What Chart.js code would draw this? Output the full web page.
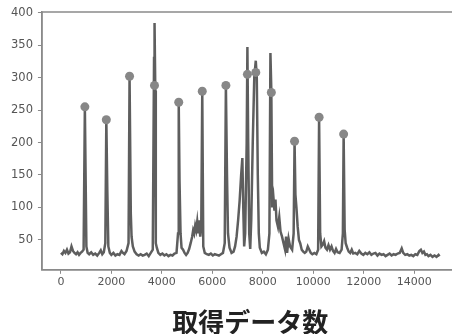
<!DOCTYPE html>
<html>
<head>
<meta charset="utf-8">
<script src="https://cdn.jsdelivr.net/npm/chart.js@4"></script>
<style>
  html, body { margin: 0; padding: 0; background: #fff; overflow: hidden; }
  canvas { display: block; }
</style>
</head>
<body>
<canvas id="chart" width="463" height="335"></canvas>
<script>
// trace (x = sample count, y = value)
const traceX = [0, 60, 120, 180, 240, 300, 360, 420, 480, 540, 600, 660, 720, 780, 840, 900, 950, 1010, 1060,
  1120, 1200, 1280, 1360, 1440, 1520, 1580, 1640, 1700, 1760, 1800, 1840, 1880, 1940, 2000, 2080, 2160, 2240,
  2320, 2400, 2460, 2520, 2600, 2680, 2720, 2770, 2800, 2850, 2920, 3000, 3080, 3160, 3240, 3320, 3400, 3480,
  3560, 3640, 3690, 3710, 3740, 3760, 3800, 3860, 3940, 4020, 4100, 4180, 4260, 4340, 4420, 4500, 4580, 4640,
  4668, 4700, 4740, 4780, 4840, 4900, 4960, 5020, 5080, 5140, 5200, 5240, 5280, 5320, 5360, 5400, 5440, 5480,
  5520, 5560, 5600, 5640, 5700, 5780, 5860, 5940, 6020, 6100, 6180, 6260, 6340, 6420, 6490, 6536, 6580, 6620,
  6680, 6760, 6840, 6900, 6960, 7020, 7080, 7140, 7188, 7230, 7260, 7300, 7360, 7388, 7420, 7460, 7500, 7540,
  7600, 7660, 7720, 7760, 7800, 7840, 7880, 7960, 8040, 8120, 8200, 8260, 8300, 8336, 8370, 8420, 8460, 8500,
  8540, 8600, 8650, 8700, 8760, 8820, 8880, 8920, 8960, 9020, 9080, 9160, 9220, 9256, 9290, 9330, 9380, 9430,
  9480, 9540, 9600, 9660, 9720, 9780, 9840, 9900, 9960, 10040, 10120, 10190, 10228, 10270, 10320, 10380, 10428,
  10480, 10540, 10600, 10660, 10720, 10780, 10840, 10900, 10960, 11040, 11120, 11170, 11200, 11240, 11280, 11340,
  11400, 11460, 11520, 11580, 11660, 11740, 11820, 11900, 11980, 12060, 12140, 12220, 12300, 12380, 12460, 12540,
  12620, 12700, 12780, 12860, 12940, 13020, 13100, 13180, 13260, 13340, 13420, 13500, 13560, 13640, 13720, 13800,
  13880, 13960, 14040, 14120, 14200, 14260, 14320, 14380, 14440, 14500, 14560, 14640, 14720, 14800, 14880, 14960, 15000];
const traceY = [30, 28, 33, 30, 35, 29, 31, 40, 33, 30, 28, 31, 27, 30, 32, 35, 255, 40, 30,
  28, 31, 27, 29, 26, 30, 34, 28, 31, 45, 235, 125, 40, 30, 27, 30, 26, 28,
  27, 33, 30, 28, 33, 45, 302, 90, 55, 40, 32, 28, 26, 28, 26, 27, 29, 25,
  30, 35, 330, 384, 280, 45, 38, 30, 27, 29, 26, 28, 25, 27, 26, 29, 30, 60,
  262, 140, 60, 38, 35, 30, 27, 30, 36, 45, 55, 65, 60, 72, 65, 78, 60, 80,
  55, 70, 279, 40, 30, 28, 27, 29, 26, 28, 27, 26, 28, 30, 45, 288, 150, 60,
  38, 30, 32, 40, 55, 80, 110, 150, 176, 90, 40, 60, 200, 347, 200, 60, 36, 80,
  200, 300, 326, 300, 150, 60, 38, 30, 32, 28, 35, 60, 338, 280, 100, 115, 95, 112,
  80, 70, 85, 63, 55, 45, 35, 55, 30, 52, 40, 35, 60, 202, 120, 100, 70, 50,
  45, 35, 32, 30, 32, 40, 35, 30, 28, 30, 28, 35, 239, 60, 40, 43, 48,
  38, 35, 42, 35, 40, 33, 30, 36, 31, 30, 35, 60, 213, 66, 45, 38,
  32, 30, 35, 29, 30, 28, 33, 29, 27, 30, 28, 31, 27, 29, 30, 26,
  29, 27, 28, 25, 27, 29, 26, 28, 27, 29, 30, 37, 30, 27, 28, 26,
  27, 25, 28, 27, 33, 35, 30, 32, 27, 28, 25, 27, 24, 26, 24, 27, 25];

// detected peaks (circle markers)
const peakX = [950, 1800, 2720, 3708, 4668, 5600, 6536, 7388, 7720, 8336, 9256, 10228, 11200];
const peakY = [255, 235, 302, 288, 262, 279, 288, 305, 308, 277, 202, 239, 213];

const xTicks = [0, 2000, 4000, 6000, 8000, 10000, 12000, 14000];
const yTicks = [50, 100, 150, 200, 250, 300, 350, 400];
const xTitle = '取得データ数';

const frameColor = '#8a8a8a';

// matplotlib-like box (top + right spines)
const boxPlugin = {
    id: 'box',
    afterDraw(chart) {
        const a = chart.chartArea;
        const ctx = chart.ctx;
        ctx.save();
        ctx.strokeStyle = frameColor;
        ctx.lineWidth = 1.5;
        ctx.strokeRect(a.left, a.top, a.right - a.left, a.bottom - a.top);
        ctx.restore();
    }
};

const ctx = document.getElementById('chart').getContext('2d');
new Chart(ctx, {
    type: 'scatter',
    data: {
        datasets: [{
            data: peakX.map((x, i) => ({ x: x, y: peakY[i] })),
            backgroundColor: '#878787',
            borderColor: '#878787',
            pointRadius: 4.5,
            pointBorderWidth: 0,
            order: 0
        }, {
            type: 'line',
            data: traceX.map((x, i) => ({ x: x, y: traceY[i] })),
            borderColor: '#5e5e5e',
            borderWidth: 2.5,
            pointRadius: 0,
            tension: 0,
            order: 1
        }]
    },
    options: {
        responsive: false,
        animation: false,
        layout: {
            padding: { left: 6, top: 12, right: 0, bottom: 0 }
        },
        scales: {
            x: {
                type: 'linear',
                min: -750,
                max: 15750,
                afterBuildTicks: (scale) => { scale.ticks = xTicks.map(v => ({ value: v })); },
                grid: {
                    drawOnChartArea: false,
                    drawTicks: true,
                    tickLength: 4,
                    color: frameColor
                },
                border: { color: frameColor, width: 1.5 },
                ticks: {
                    color: '#555',
                    padding: 2,
                    maxRotation: 0,
                    font: { family: 'DejaVu Sans', size: 11 },
                    callback: (v) => String(v)
                },
                title: {
                    display: true,
                    text: xTitle,
                    color: '#222',
                    padding: { top: 18, bottom: 0 },
                    font: { family: 'Noto Sans CJK JP', size: 26, weight: 'bold', lineHeight: 1 }
                }
            },
            y: {
                min: 4,
                max: 401,
                afterBuildTicks: (scale) => { scale.ticks = yTicks.map(v => ({ value: v })); },
                grid: {
                    drawOnChartArea: false,
                    drawTicks: true,
                    tickLength: 4,
                    color: frameColor
                },
                border: { color: frameColor, width: 1.5 },
                ticks: {
                    color: '#555',
                    padding: 5,
                    font: { family: 'DejaVu Sans', size: 11.5 }
                }
            }
        },
        plugins: {
            legend: { display: false },
            tooltip: { enabled: false }
        }
    },
    plugins: [boxPlugin]
});
</script>
</body>
</html>
